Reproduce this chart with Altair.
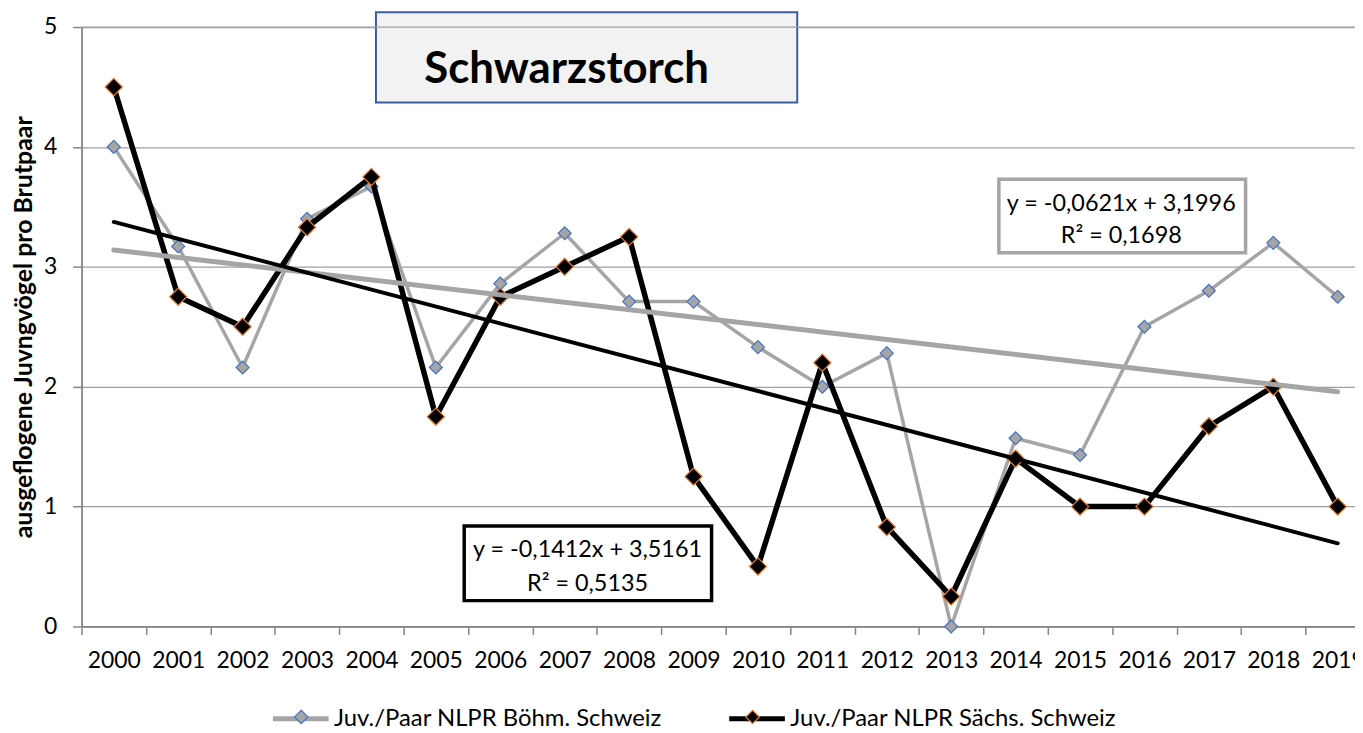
import altair as alt
import pandas as pd

# ---------------- data ----------------
years = list(range(2000, 2020))
boehm = [4.0, 3.17, 2.16, 3.4, 3.67, 2.16, 2.86, 3.28, 2.71, 2.71,
         2.33, 2.0, 2.28, 0.0, 1.57, 1.43, 2.5, 2.8, 3.2, 2.75]
saechs = [4.5, 2.75, 2.5, 3.33, 3.75, 1.75, 2.75, 3.0, 3.25, 1.25,
          0.5, 2.2, 0.83, 0.25, 1.4, 1.0, 1.0, 1.67, 2.0, 1.0]
series_names = ["Juv./Paar NLPR Böhm. Schweiz", "Juv./Paar NLPR Sächs. Schweiz"]
y_ticks = [0, 1, 2, 3, 4, 5]
y_title = "ausgeflogene Juvngvögel pro Brutpaar"
chart_title = "Schwarzstorch"
eq_boehm = ["y = -0,0621x + 3,1996", "R² = 0,1698"]
eq_saechs = ["y = -0,1412x + 3,5161", "R² = 0,5135"]

df = pd.DataFrame({
    "year": years * 2,
    "value": boehm + saechs,
    "series": [series_names[0]] * len(years) + [series_names[1]] * len(years),
})
df["series_b"] = df["series"]

# ---------------- layout / style ----------------
BAND = 64.8
W, H = 1281, 603
PAD = {"left": 74, "top": 17, "right": 0, "bottom": 105}
GREY = "#A5A5A5"
GRID = "#A0A0A0"
AXIS = "#868686"
FONT = "Lato"
LEG_FS = 24

x_scale = alt.Scale(domain=[1999.5, 1999.5 + W / BAND], nice=False, zero=False)
y_scale = alt.Scale(domain=[0, 5], nice=False)

x_axis = alt.Axis(values=years, format="d", title=None, grid=False,
                  tickOffset=-BAND / 2, labelOffset=BAND / 2, labelFlush=False,
                  labelOverlap=False, tickSize=8, labelPadding=15,
                  labelFontSize=23, labelFont=FONT, labelColor="black",
                  domainColor=AXIS, domainWidth=1.8, tickColor=AXIS, tickWidth=1.5)
y_axis = alt.Axis(values=y_ticks, format="d", title=y_title, grid=True,
                  gridColor=GRID, gridWidth=1.2, tickSize=9, labelPadding=16,
                  labelFontSize=23, labelFont=FONT, labelColor="black",
                  domainColor=AXIS, domainWidth=1.8, tickColor=AXIS, tickWidth=1.5,
                  titleFont=FONT, titleFontSize=25, titleFontWeight="bold",
                  titleColor="black", titleX=-58, titleY=H / 2,
                  titleBaseline="middle", titleAlign="center", titleLimit=0)


def X(field="year"):
    return alt.X(f"{field}:Q", scale=x_scale, axis=x_axis)


def Y(field="value"):
    return alt.Y(f"{field}:Q", scale=y_scale, axis=y_axis)


stroke_scale = alt.Scale(range=[GREY, "#000000"])
fill_scale = alt.Scale(range=[GREY, "#000000"])

n0 = series_names[0]
legA = alt.Legend(title=None, orient="none", legendX=190, legendY=665,
                  direction="horizontal", symbolType="M-1,0L1,0", symbolSize=3136,
                  labelFont=FONT, labelFontSize=LEG_FS, labelColor="black",
                  labelLimit=0, labelOffset=3, columnPadding=57, padding=0,
                  symbolFillColor="transparent", symbolStrokeWidth=5)
legB = alt.Legend(title=None, orient="none", legendX=190, legendY=665,
                  direction="horizontal",
                  symbolType="M0,-0.24L0.24,0L0,0.24L-0.24,0Z", symbolSize=3136,
                  labelFont=FONT, labelFontSize=LEG_FS, labelOpacity=0,
                  labelLimit=0, labelOffset=7, columnPadding=57, padding=0,
                  symbolStrokeWidth=1.2, symbolOpacity=1, symbolOffset=2,
                  symbolStrokeColor=alt.ExprRef(expr=f"datum.value === '{n0}' ? '#4472C4' : '#ED7D31'"))

base = alt.Chart(df)


def line_layer(name, width):
    return base.transform_filter(alt.datum.series == name).mark_line(
        strokeWidth=width, strokeJoin="round").encode(
        x=X(), y=Y(), stroke=alt.Stroke("series:N", scale=stroke_scale, legend=legA))


def point_layer(name, size, edge):
    return base.transform_filter(alt.datum.series == name).mark_point(
        shape="diamond", filled=True, size=size, stroke=edge, strokeWidth=1.2,
        opacity=1).encode(
        x=X(), y=Y(), fill=alt.Fill("series_b:N", scale=fill_scale, legend=legB))


def trend_layer(name, width):
    return base.transform_filter(alt.datum.series == name).transform_regression(
        "year", "value", groupby=["series"]).mark_line(
        strokeWidth=width, strokeCap="round").encode(
        x=X(), y=Y(), stroke=alt.Stroke("series:N", scale=stroke_scale, legend=legA))


ann = alt.Chart(alt.Data(values=[{"k": 0}]))


def box(x1, x2, y1, y2, fill, stroke, sw):
    return ann.mark_rect(fill=fill, stroke=stroke, strokeWidth=sw).encode(
        x=alt.datum(x1), x2=alt.datum(x2), y=alt.datum(y1), y2=alt.datum(y2))


def label(xv, yv, txt, size, weight="normal", align="center"):
    return ann.mark_text(align=align, baseline="alphabetic", font=FONT,
                         fontSize=size, fontWeight=weight, color="black").encode(
        x=alt.datum(xv), y=alt.datum(yv), text=alt.value(txt))


layers = [
    box(2004.07, 2010.61, 5.124, 4.37, "#F2F2F2", "#3B5C99", 2),
    ann.mark_rule(color=GRID, strokeWidth=1.2).encode(y=alt.datum(5)),
    label(2004.82, 4.536, chart_title, 44, "bold", "left"),
    line_layer(series_names[0], 3.5),
    point_layer(series_names[0], 170, "#4472C4"),
    line_layer(series_names[1], 5.5),
    point_layer(series_names[1], 300, "#ED7D31"),
    trend_layer(series_names[0], 5),
    trend_layer(series_names[1], 4),
    box(2013.74, 2017.57, 3.731, 3.118, "white", GREY, 3.5),
    label(2015.64, 3.466, eq_boehm[0], 23.5),
    label(2015.64, 3.201, eq_boehm[1], 23.5),
    box(2005.44, 2009.28, 0.8375, 0.2156, "white", "black", 3.5),
    label(2007.355, 0.580, eq_saechs[0], 23.5),
    label(2007.355, 0.2985, eq_saechs[1], 23.5),
]

chart = alt.layer(*layers).properties(
    width=W, height=H,
    autosize=alt.AutoSizeParams(type="none"),
    padding=PAD,
).configure_view(stroke=None).configure(font=FONT)

chart.save("out.html", embed_options={"renderer": "svg", "actions": False})
